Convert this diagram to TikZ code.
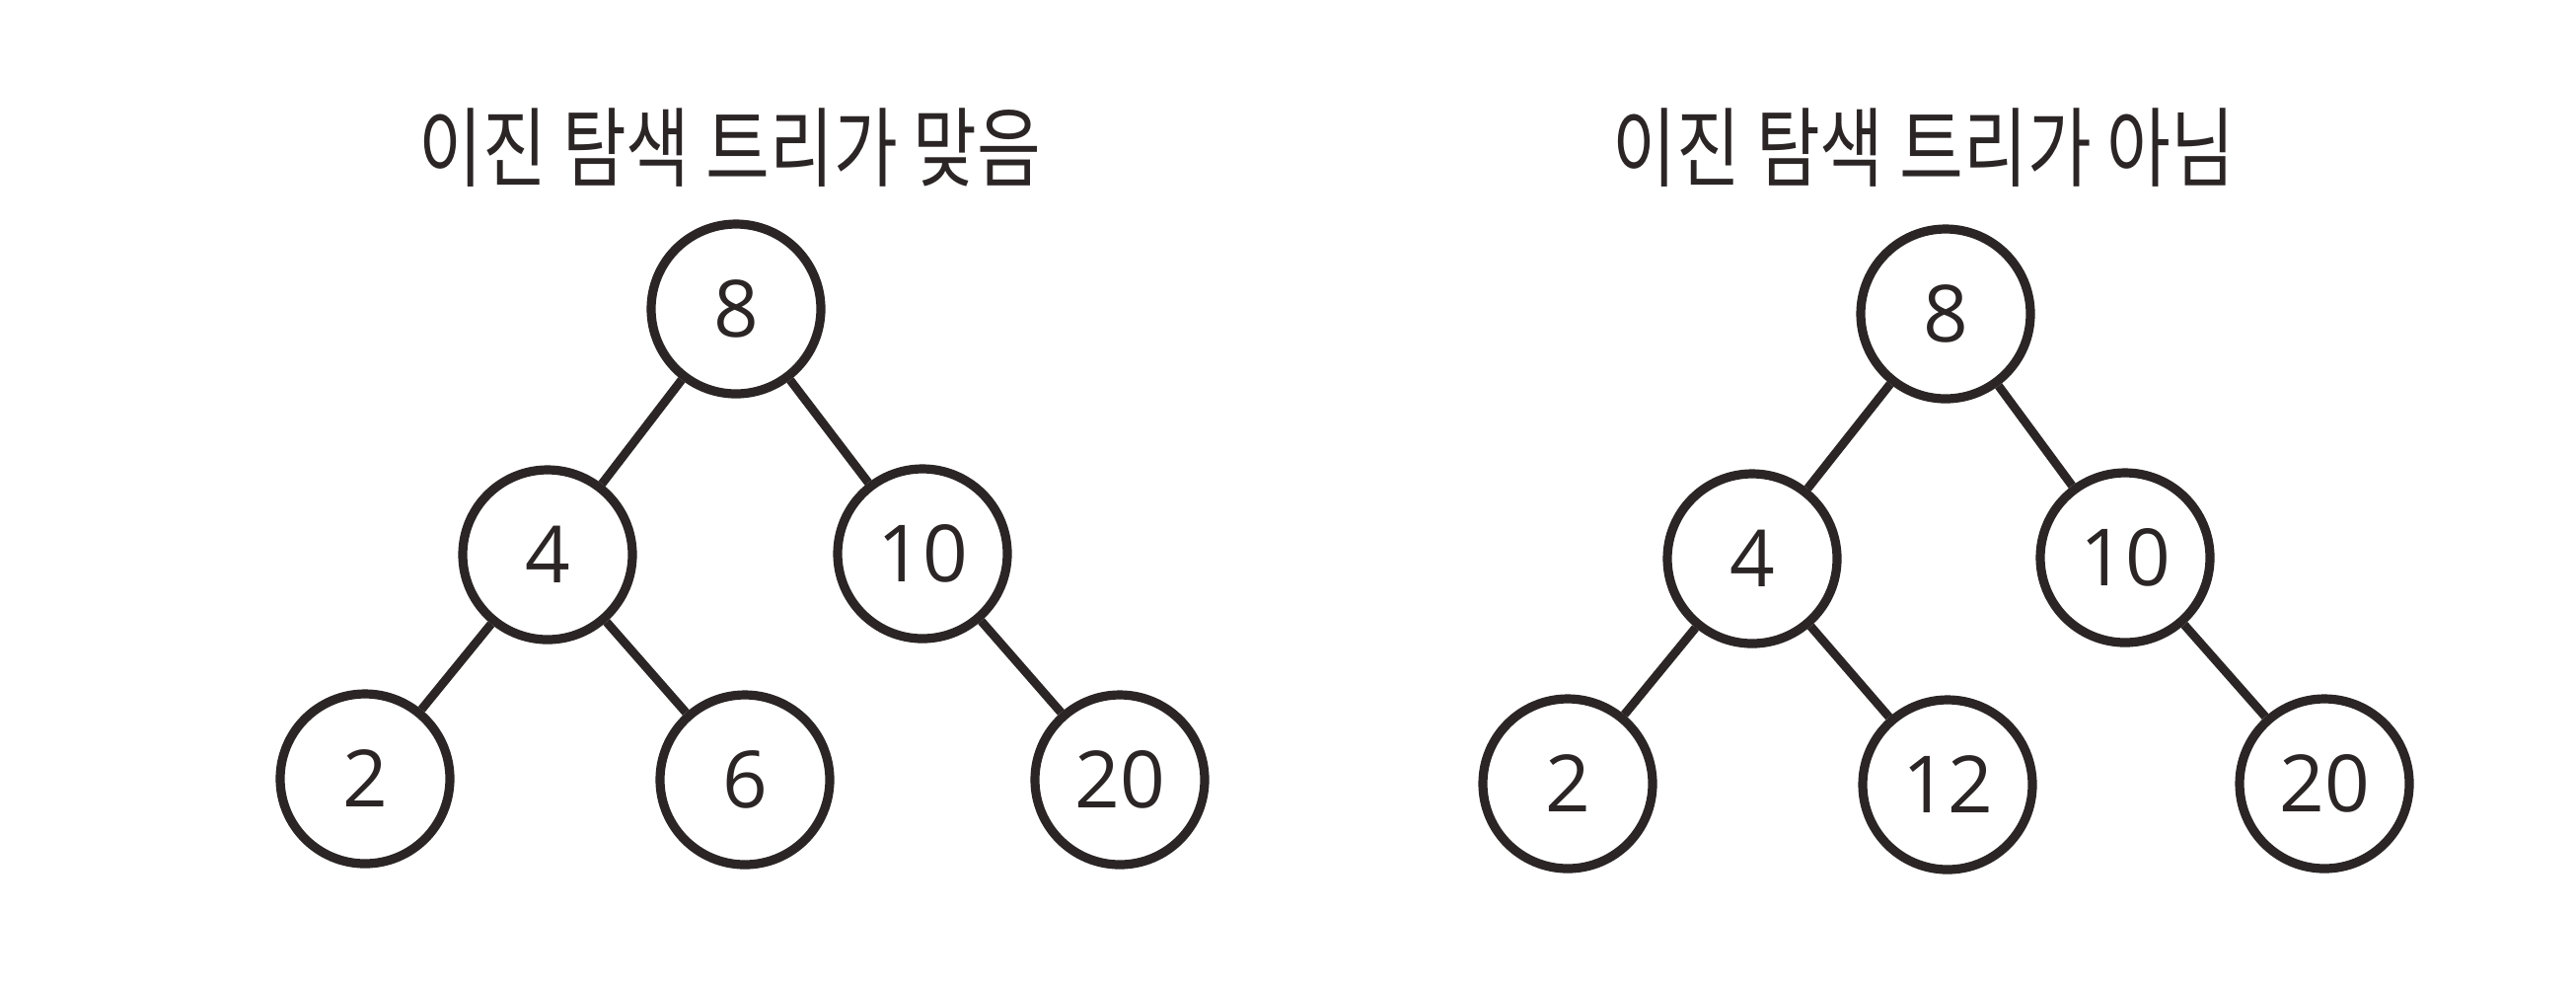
\documentclass[tikz,border=0pt]{standalone}
\usepackage{fontspec}
\setmainfont{Noto Sans CJK KR}
\newfontfamily\digitfont{Open Sans}
\definecolor{ink}{HTML}{2B2625}
\tikzset{
  bstnode/.style={circle, draw=ink, line width=2.3pt, minimum size=43pt, inner sep=0pt,
    text=ink, font=\digitfont\fontsize{20pt}{24pt}\selectfont},
  link/.style={draw=ink, line width=2.2pt},
  title/.style={text=ink, inner sep=0pt, font=\fontsize{22pt}{26pt}\selectfont}
}
\begin{document}
\begin{tikzpicture}[x=0.25pt, y=-0.25pt]
\useasboundingbox[fill=white] (0,0) rectangle (2611,1000);
% left tree
\node[title] (tl) at (740,150) {\scalebox{0.8}[1]{이진 탐색 트리가 맞음}};
\node[bstnode] (a8) at (746,313) {8};
\node[bstnode] (a4) at (555,562) {4};
\node[bstnode] (a10) at (935,561) {10};
\node[bstnode] (a2) at (370,789) {2};
\node[bstnode] (a6) at (755,790) {6};
\node[bstnode] (a20) at (1135,790) {20};
\draw[link] (a8) -- (a4);
\draw[link] (a8) -- (a10);
\draw[link] (a4) -- (a2);
\draw[link] (a4) -- (a6);
\draw[link] (a10) -- (a20);
% right tree
\node[title] (tr) at (1950,150) {\scalebox{0.8}[1]{이진 탐색 트리가 아님}};
\node[bstnode] (b8) at (1972,318) {8};
\node[bstnode] (b4) at (1776,566) {4};
\node[bstnode] (b10) at (2154,565) {10};
\node[bstnode] (b2) at (1589,794) {2};
\node[bstnode] (b12) at (1974,795) {12};
\node[bstnode] (b20) at (2356,794) {20};
\draw[link] (b8) -- (b4);
\draw[link] (b8) -- (b10);
\draw[link] (b4) -- (b2);
\draw[link] (b4) -- (b12);
\draw[link] (b10) -- (b20);
\end{tikzpicture}
\end{document}
